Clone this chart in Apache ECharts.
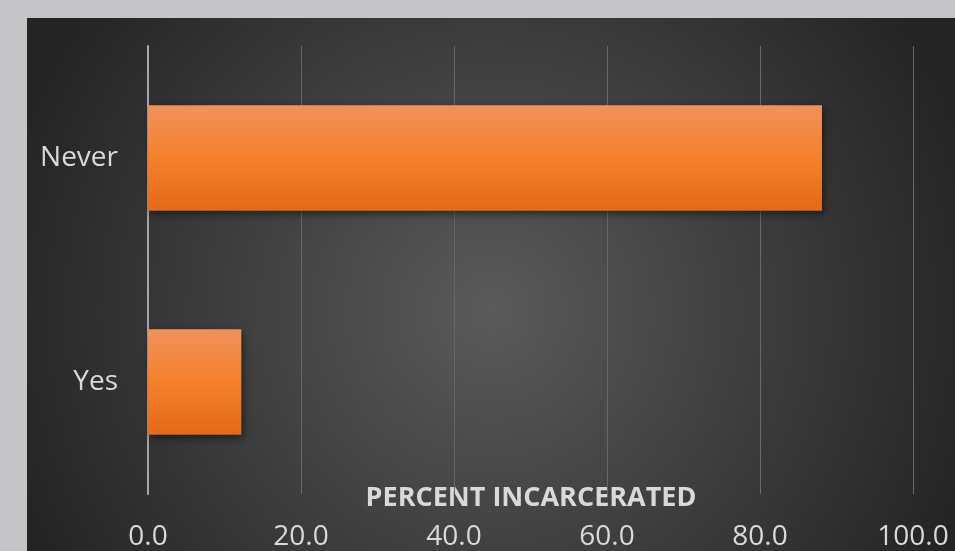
<!DOCTYPE html>
<html>
<head>
<meta charset="utf-8">
<script src="https://cdn.jsdelivr.net/npm/echarts@6/dist/echarts.min.js"></script>
<style>
  html, body { margin: 0; padding: 0; width: 955px; height: 551px; overflow: hidden; background: #c5c5c7; }
  #chart { position: absolute; left: 27px; top: 18px; width: 928px; height: 533px; }
</style>
</head>
<body>
<div id="chart"></div>
<script>
// data
const categories = ["Yes", "Never"];
const percentIncarcerated = [12.2, 88.1];
const axisName = "PERCENT INCARCERATED";

const textColor = "#d9d9d9";
const font = "'Open Sans', 'Noto Sans', sans-serif";

const chart = echarts.init(document.getElementById("chart"));

const option = {
  backgroundColor: {
    type: "radial",
    x: 0.5,
    y: 0.55,
    r: 0.95,
    colorStops: [
      { offset: 0, color: "#5a5a5a" },
      { offset: 1, color: "#242424" },
    ],
  },
  animation: false,
  grid: {
    left: 121,
    right: 42,
    top: 28,
    bottom: 56,
  },
  graphic: [
    {
      type: "text",
      x: 504,
      y: 480,
      style: {
        text: axisName,
        fill: textColor,
        font: "bold 27px " + font,
        textAlign: "center",
        textVerticalAlign: "middle",
      },
    },
  ],
  xAxis: {
    type: "value",
    min: 0,
    max: 100,
    interval: 20,
    axisLine: { show: false },
    axisTick: { show: false },
    splitLine: {
      lineStyle: { color: "#676767", width: 1 },
    },
    axisLabel: {
      color: textColor,
      fontSize: 28,
      fontFamily: font,
      margin: 29,
      formatter: function (v) {
        return v.toFixed(1);
      },
    },
  },
  yAxis: {
    type: "category",
    data: categories,
    axisTick: { show: false },
    axisLine: {
      lineStyle: { color: "#a6a6a6", width: 2 },
    },
    axisLabel: {
      color: textColor,
      fontSize: 28,
      fontFamily: font,
      margin: 30,
    },
  },
  series: [
    {
      type: "bar",
      data: percentIncarcerated,
      barWidth: "47%",
      itemStyle: {
        color: {
          type: "linear",
          x: 0, y: 0, x2: 0, y2: 1,
          colorStops: [
            { offset: 0, color: "#f0915b" },
            { offset: 0.5, color: "#f5812b" },
            { offset: 1, color: "#e56817" },
          ],
        },
        shadowColor: "rgba(0,0,0,0.5)",
        shadowBlur: 8,
        shadowOffsetX: 2,
        shadowOffsetY: 3,
      },
    },
  ],
};

chart.setOption(option);
</script>
</body>
</html>
